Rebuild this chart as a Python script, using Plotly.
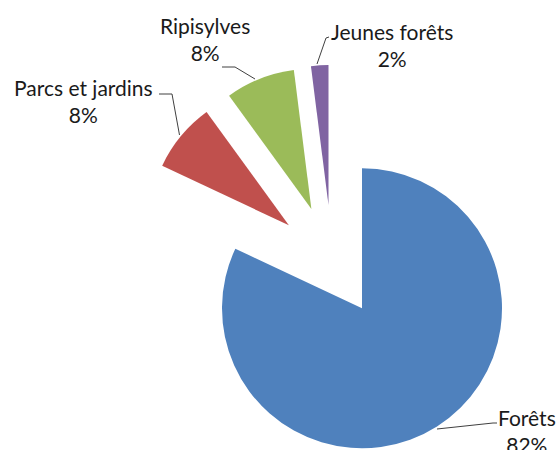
import plotly.graph_objects as go

# Répartition des surfaces boisées
labels = ["Forêts", "Parcs et jardins", "Ripisylves", "Jeunes forêts"]
values = [82, 8, 8, 2]
colors = ["#4F81BD", "#C0504D", "#9BBB59", "#8064A2"]

W, H = 558, 462

def px(x):
    return x / W

def py(y):
    return 1 - y / H

fig = go.Figure(
    go.Pie(
        labels=labels,
        values=values,
        sort=False,
        direction="clockwise",
        rotation=0,
        pull=[0.4, 0.4, 0.4, 0.4],
        marker=dict(colors=colors, line=dict(width=0)),
        textinfo="none",
        hoverinfo="label+percent",
        showlegend=False,
        domain=dict(x=[px(136), px(528)], y=[py(457), py(65)]),
    )
)

# label blocks: (centre x, centre y) in pixels, and leader-line polylines
label_pos = [(527, 431), (83, 101), (205, 39), (392, 45)]
leaders = [
    [(437, 429), (493, 423), (497, 423)],
    [(159, 94), (172, 94), (179.5, 135)],
    [(222, 67), (235, 67), (255, 79)],
    [(329, 37), (326, 38), (317, 64)],
]

annotations = []
for lab, val, (cx, cy) in zip(labels, values, label_pos):
    annotations.append(
        dict(
            text=f"{lab}<br>{val}%",
            x=px(cx), y=py(cy), xref="paper", yref="paper",
            xanchor="center", yanchor="middle",
            showarrow=False,
            font=dict(family="Lato, Carlito, sans-serif", size=21, color="#1a1a1a"),
        )
    )

shapes = []
for pts in leaders:
    path = "M " + " L ".join(f"{px(x)},{py(y)}" for x, y in pts)
    shapes.append(
        dict(type="path", path=path, xref="paper", yref="paper",
             line=dict(color="#404040", width=1))
    )

fig.update_layout(
    width=W, height=H,
    margin=dict(l=0, r=0, t=0, b=0),
    paper_bgcolor="white",
    plot_bgcolor="white",
    annotations=annotations,
    shapes=shapes,
)

fig.write_html(
    "out.html",
    post_script="document.body.style.margin='0';document.body.style.overflow='hidden';document.documentElement.style.overflow='hidden';",
)
